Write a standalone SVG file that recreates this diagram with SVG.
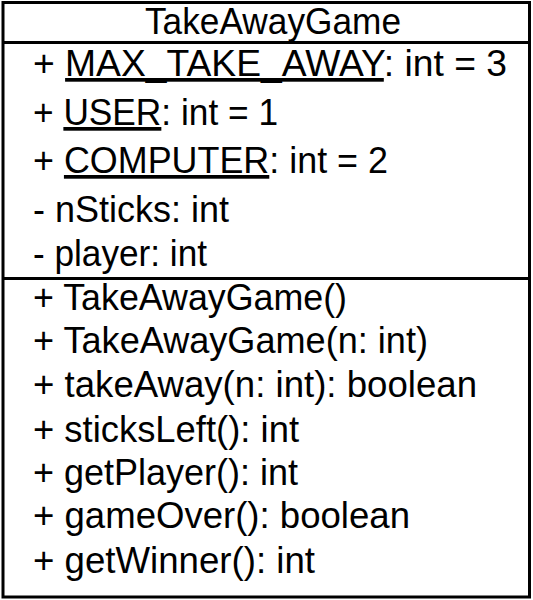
<svg xmlns="http://www.w3.org/2000/svg" width="533" height="600" viewBox="0 0 533 600">
<style>
.box{fill:#fff;stroke:#000;stroke-width:3}
.sep{stroke:#000;stroke-width:3}
.t{font-family:"Liberation Sans",Arial,sans-serif;font-size:37px;fill:#000}
.u{text-decoration:underline}
</style>
<rect width="533" height="600" fill="#fff"/>
<g id="connectors"/>
<g id="TakeAwayGame">
<rect class="box" x="3" y="2.5" width="526.5" height="594.5"/>
<line class="sep" x1="3" y1="42.5" x2="529.5" y2="42.5"/>
<line class="sep" x1="3" y1="278.5" x2="529.5" y2="278.5"/>
<text class="t" x="145" y="34" textLength="256" lengthAdjust="spacingAndGlyphs">TakeAwayGame</text>
<text class="t" x="33" y="76" textLength="474" lengthAdjust="spacingAndGlyphs">+ <tspan class="u">MAX_TAKE_AWAY</tspan>: int = 3</text>
<text class="t" x="33" y="125" textLength="245" lengthAdjust="spacingAndGlyphs">+ <tspan class="u">USER</tspan>: int = 1</text>
<text class="t" x="33" y="173" textLength="355" lengthAdjust="spacingAndGlyphs">+ <tspan class="u">COMPUTER</tspan>: int = 2</text>
<text class="t" x="33" y="222" textLength="196" lengthAdjust="spacingAndGlyphs">- nSticks: int</text>
<text class="t" x="33" y="266" textLength="174" lengthAdjust="spacingAndGlyphs">- player: int</text>
<text class="t" x="33" y="310" textLength="314" lengthAdjust="spacingAndGlyphs">+ TakeAwayGame()</text>
<text class="t" x="33" y="353" textLength="395" lengthAdjust="spacingAndGlyphs">+ TakeAwayGame(n: int)</text>
<text class="t" x="33" y="397" textLength="444" lengthAdjust="spacingAndGlyphs">+ takeAway(n: int): boolean</text>
<text class="t" x="33" y="442" textLength="266" lengthAdjust="spacingAndGlyphs">+ sticksLeft(): int</text>
<text class="t" x="33" y="485" textLength="265" lengthAdjust="spacingAndGlyphs">+ getPlayer(): int</text>
<text class="t" x="33" y="528" textLength="377" lengthAdjust="spacingAndGlyphs">+ gameOver(): boolean</text>
<text class="t" x="33" y="573" textLength="282" lengthAdjust="spacingAndGlyphs">+ getWinner(): int</text>
</g>
</svg>
